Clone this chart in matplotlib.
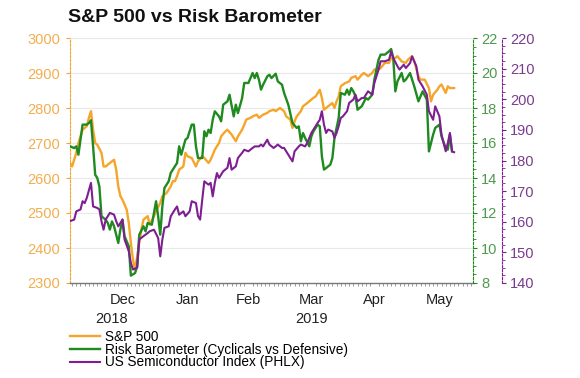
import numpy as np
import matplotlib.pyplot as plt
import matplotlib.dates as mdates
from matplotlib.ticker import MultipleLocator

plt.rcParams['font.family'] = ['Liberation Sans', 'DejaVu Sans']

# day offsets counted from 2018-11-21
start = np.datetime64('2018-11-21')

sp_days = [0, 1, 3, 4, 6, 7, 8, 9, 10, 11,
           12, 13, 15, 16, 17, 19, 21, 22, 23, 24,
           25, 27, 28, 29, 30, 31, 33, 34, 35, 36,
           37, 38, 40, 41, 43, 44, 46, 48, 49, 50,
           51, 52, 54, 55, 56, 58, 60, 61, 63, 64,
           66, 67, 69, 71, 72, 74, 75, 77, 79, 80,
           82, 83, 84, 86, 87, 89, 90, 92, 94, 95,
           97, 98, 100, 102, 103, 105, 106, 107, 108, 110,
           111, 113, 114, 116, 117, 119, 120, 121, 123, 125,
           126, 127, 128, 129, 131, 133, 134, 136, 137, 139,
           140, 142, 144, 145, 147, 148, 150, 152, 153, 155,
           156, 158, 160, 161, 163, 164, 166, 167, 169, 171,
           172, 173, 175, 176, 177, 179, 180, 181, 183]
sp_vals = [2643, 2633, 2672, 2700, 2738, 2743, 2748, 2772, 2791, 2738,
           2700, 2695, 2672, 2633, 2633, 2643, 2652, 2624, 2576, 2548,
           2538, 2510, 2472, 2415, 2367, 2338, 2415, 2453, 2481, 2486,
           2491, 2467, 2491, 2505, 2529, 2548, 2557, 2576, 2591, 2591,
           2605, 2624, 2633, 2672, 2662, 2657, 2633, 2648, 2662, 2657,
           2643, 2652, 2681, 2700, 2719, 2733, 2738, 2724, 2705, 2719,
           2738, 2752, 2767, 2772, 2776, 2781, 2772, 2781, 2786, 2791,
           2795, 2791, 2800, 2791, 2776, 2767, 2743, 2762, 2776, 2791,
           2805, 2814, 2819, 2829, 2833, 2852, 2829, 2795, 2805, 2814,
           2800, 2819, 2833, 2862, 2871, 2876, 2886, 2891, 2881, 2895,
           2900, 2891, 2900, 2910, 2910, 2914, 2929, 2929, 2943, 2943,
           2948, 2933, 2929, 2938, 2948, 2933, 2891, 2881, 2881, 2857,
           2819, 2838, 2852, 2862, 2867, 2843, 2862, 2857, 2857]

risk_days = [0, 2, 3, 4, 6, 8, 9, 10, 11, 12,
             13, 14, 15, 17, 18, 19, 20, 21, 23, 24,
             25, 26, 28, 29, 31, 32, 33, 35, 36, 37,
             39, 41, 42, 43, 44, 45, 47, 48, 50, 51,
             52, 53, 55, 56, 58, 59, 60, 61, 63, 64,
             65, 66, 67, 68, 69, 71, 72, 73, 75, 76,
             78, 79, 80, 82, 83, 85, 87, 88, 89, 90,
             91, 92, 94, 95, 96, 98, 99, 101, 102, 104,
             106, 108, 109, 110, 111, 112, 114, 115, 116, 118,
             119, 120, 121, 122, 124, 125, 126, 128, 129, 131,
             132, 133, 134, 135, 136, 137, 139, 141, 142, 144,
             145, 147, 148, 150, 152, 153, 154, 155, 156, 158,
             159, 160, 162, 163, 164, 166, 167, 168, 170, 171,
             173, 174, 176, 177, 179, 180, 181, 182]
risk_vals = [15.81, 15.71, 15.81, 15.33, 17.05, 17.05, 17.14, 17.30, 15.81, 14.19,
             14.00, 13.52, 11.81, 11.62, 11.43, 11.05, 11.52, 11.24, 10.29, 11.05,
             11.62, 10.67, 10.10, 8.42, 8.57, 8.95, 10.76, 11.24, 10.95, 11.43,
             11.33, 12.67, 11.81, 10.76, 12.38, 13.43, 13.81, 14.29, 14.67, 14.86,
             15.81, 15.33, 16.19, 16.29, 17.05, 17.05, 15.81, 15.14, 15.14, 16.67,
             16.38, 16.76, 16.57, 17.33, 17.81, 17.52, 17.24, 18.19, 18.38, 18.76,
             17.52, 18.19, 17.71, 18.57, 19.43, 19.43, 20.00, 19.71, 20.00, 19.62,
             19.05, 19.33, 19.81, 19.90, 19.71, 19.96, 19.52, 19.33, 18.86, 18.19,
             17.14, 16.86, 16.95, 16.10, 16.57, 16.29, 15.81, 16.38, 16.67, 17.05,
             16.95, 15.24, 14.48, 14.57, 14.76, 15.14, 16.29, 17.43, 18.86, 18.76,
             19.05, 18.76, 19.14, 18.95, 18.67, 17.90, 18.10, 18.57, 18.48, 18.76,
             19.62, 20.76, 21.05, 21.05, 21.24, 21.37, 20.86, 18.95, 19.52, 20.00,
             19.52, 19.62, 20.00, 19.62, 19.24, 18.38, 18.67, 18.95, 18.48, 15.52,
             16.48, 16.86, 17.05, 16.38, 15.71, 15.62, 16.48, 15.52]

semi_days = [0, 2, 3, 5, 6, 7, 8, 10, 11, 13,
             14, 15, 16, 17, 18, 19, 21, 22, 23, 25,
             26, 28, 29, 30, 32, 33, 35, 37, 38, 40,
             42, 43, 44, 45, 47, 48, 50, 51, 52, 54,
             55, 57, 58, 60, 61, 62, 63, 64, 66, 67,
             68, 69, 70, 71, 73, 75, 76, 77, 79, 80,
             82, 83, 85, 87, 88, 90, 91, 92, 94, 95,
             97, 98, 99, 101, 102, 104, 106, 107, 109, 110,
             112, 113, 115, 116, 118, 119, 120, 121, 122, 123,
             125, 126, 127, 128, 129, 130, 132, 133, 135, 136,
             137, 139, 140, 142, 144, 145, 147, 148, 150, 152,
             153, 154, 156, 157, 159, 160, 162, 163, 165, 166,
             168, 170, 171, 173, 174, 176, 177, 179, 180, 181,
             182, 183]
semi_vals = [160.2, 160.7, 163.4, 164.0, 166.7, 166.1, 167.8, 172.7, 165.0, 164.5,
             164.0, 160.2, 157.4, 160.7, 161.8, 162.9, 162.3, 160.2, 158.5, 160.7,
             154.2, 150.4, 146.6, 144.4, 145.0, 154.2, 155.3, 156.3, 156.9, 157.4,
             154.7, 148.7, 154.2, 158.0, 158.5, 161.8, 164.0, 165.0, 162.3, 163.4,
             161.8, 163.4, 166.7, 166.1, 161.8, 160.7, 167.2, 173.2, 172.1, 172.7,
             168.3, 172.7, 175.9, 174.3, 176.5, 177.6, 180.8, 177.0, 178.1, 180.8,
             182.5, 183.5, 183.0, 184.1, 184.6, 184.6, 185.2, 184.6, 186.8, 185.2,
             184.1, 184.6, 185.2, 184.1, 184.1, 181.9, 179.7, 183.0, 184.6, 185.2,
             184.6, 185.7, 189.0, 190.1, 192.3, 193.3, 196.1, 191.7, 189.0, 190.1,
             189.5, 187.4, 189.0, 191.2, 193.9, 194.4, 196.1, 198.8, 199.9, 201.5,
             199.3, 200.4, 200.4, 202.6, 201.5, 205.3, 209.7, 212.4, 212.4, 212.9,
             215.6, 213.5, 210.8, 209.7, 211.3, 210.2, 211.8, 214.0, 210.8, 206.4,
             204.2, 201.5, 196.1, 193.3, 197.7, 194.4, 188.4, 183.0, 185.7, 189.0,
             183.0, 182.7]

month_pos = ['2018-12-16', '2019-01-16', '2019-02-14', '2019-03-16', '2019-04-15', '2019-05-16']
month_labels = ['Dec', 'Jan', 'Feb', 'Mar', 'Apr', 'May']
year_pos = ['2018-12-11', '2019-03-16']
year_labels = ['2018', '2019']

names = ['S&P 500', 'Risk Barometer (Cyclicals vs Defensive)', 'US Semiconductor Index (PHLX)']

ORANGE = '#F5A52A'
GREEN = '#1F8A1F'
PURPLE = '#7E1E92'


def to_dates(days):
    return start + np.array(days).astype('timedelta64[D]')


fig = plt.figure(figsize=(5.8, 3.78), dpi=100)
ax = fig.add_axes([70 / 580, 1 - 283 / 378, 403 / 580, 245 / 378])
ax2 = ax.twinx()
ax3 = ax.twinx()

l1, = ax.plot(to_dates(sp_days), sp_vals, color=ORANGE, lw=1.7)
l2, = ax2.plot(to_dates(risk_days), risk_vals, color=GREEN, lw=1.7)
l3, = ax3.plot(to_dates(semi_days), semi_vals, color=PURPLE, lw=1.5)

# x axis
ax.set_xlim(start, start + np.timedelta64(192, 'D'))
ax.set_xticks(np.array(month_pos, dtype='datetime64[D]'))
ax.set_xticklabels(month_labels)
ax.xaxis.set_minor_locator(mdates.DayLocator(interval=2))
ax.tick_params(axis='x', which='major', length=0, pad=7, labelsize=10.5, labelcolor='#222222')
ax.tick_params(axis='x', which='minor', length=2, color='#888888', width=0.6)
for p, lab in zip(year_pos, year_labels):
    ax.text(np.datetime64(p), -0.145, lab, transform=ax.get_xaxis_transform(),
            ha='center', va='center', fontsize=10.5, color='#222222')

# left axis (S&P)
ax.set_ylim(2300, 3000)
ax.yaxis.set_major_locator(MultipleLocator(100))
ax.tick_params(axis='y', length=3, color=ORANGE, labelcolor='#F2AE4E', labelsize=10.5, pad=4)
ax.grid(axis='y', color='#e9e9e9', lw=0.8)
ax.set_axisbelow(True)
for s in ['top', 'right']:
    ax.spines[s].set_visible(False)
ax.spines['left'].set_color(ORANGE)
ax.spines['left'].set_linestyle((0, (2, 1.5)))
ax.spines['left'].set_linewidth(0.8)
ax.spines['bottom'].set_color('#777777')
ax.spines['bottom'].set_linestyle((0, (1, 1)))
ax.spines['bottom'].set_linewidth(1.0)

# green axis
ax2.set_ylim(8, 22)
ax2.yaxis.set_major_locator(MultipleLocator(2))
ax2.yaxis.set_minor_locator(MultipleLocator(0.5))
ax2.tick_params(axis='y', which='major', length=3, color=GREEN, labelcolor='#4E9A4E', labelsize=10.5, pad=3)
ax2.tick_params(axis='y', which='minor', length=2, color=GREEN, width=0.6)
for s in ['top', 'left', 'bottom']:
    ax2.spines[s].set_visible(False)
ax2.spines['right'].set_color(GREEN)
ax2.spines['right'].set_linestyle((0, (2, 1.5)))
ax2.spines['right'].set_linewidth(0.8)

# purple axis
ax3.spines['right'].set_position(('axes', 1 + 29 / 403))
ax3.set_ylim(140, 220)
ax3.yaxis.set_major_locator(MultipleLocator(10))
ax3.yaxis.set_minor_locator(MultipleLocator(2.5))
ax3.tick_params(axis='y', which='major', length=3, color=PURPLE, labelcolor='#7A3C8C', labelsize=10.5, pad=3)
ax3.tick_params(axis='y', which='minor', length=2, color=PURPLE, width=0.6)
for s in ['top', 'left', 'bottom']:
    ax3.spines[s].set_visible(False)
ax3.spines['right'].set_color(PURPLE)
ax3.spines['right'].set_linestyle((0, (2, 1.5)))
ax3.spines['right'].set_linewidth(0.8)

fig.text(68 / 580, 1 - 18 / 378, 'S&P 500 vs Risk Barometer', fontsize=14,
         fontweight='bold', color='#111111', va='center')

fig.legend([l1, l2, l3], names, loc='upper left', bbox_to_anchor=(70 / 580, 1 - 330 / 378),
           frameon=False, fontsize=9.8, handlelength=2.2, handletextpad=0.4,
           labelspacing=-0.1, borderpad=0, borderaxespad=0)

fig.savefig('out.png', dpi=100)
